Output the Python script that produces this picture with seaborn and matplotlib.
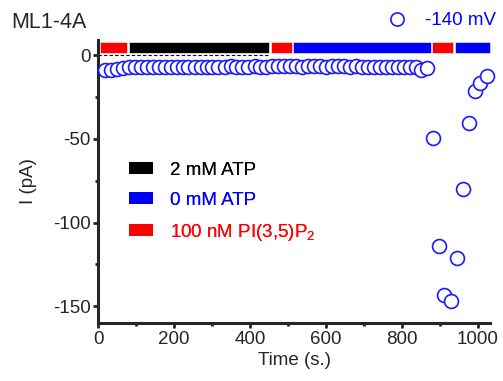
import matplotlib
matplotlib.use("Agg")
import matplotlib.pyplot as plt
import seaborn as sns
import pandas as pd
from matplotlib.patches import Patch
from matplotlib.lines import Line2D
from matplotlib.ticker import MultipleLocator

# ---- data ----
time_s = [18, 34, 50, 65, 81, 97, 112, 128, 144, 160, 175, 191, 207, 223, 238,
          254, 270, 286, 301, 317, 333, 349, 364, 380, 396, 412, 427, 443, 459,
          475, 490, 506, 522, 538, 553, 569, 585, 601, 616, 632, 648, 664, 679,
          695, 711, 727, 742, 758, 774, 790, 805, 821, 837, 850, 866,
          881, 897, 911, 929, 945, 961, 977, 992, 1007, 1023]
current_pA = [-9.2, -9.0, -8.4, -7.6, -7.2, -7.0, -7.0, -6.9, -7.0, -7.1, -7.0, -6.9,
              -7.0, -7.1, -7.2, -7.0, -6.9, -7.0, -7.1, -7.0, -6.9, -6.8, -6.9, -7.0,
              -6.9, -6.8, -6.9, -7.0, -6.8, -6.7, -6.8, -6.7, -6.8, -6.9, -6.8, -6.7,
              -6.8, -6.9, -6.8, -6.7, -6.8, -6.9, -6.8, -6.9, -7.0, -6.9, -7.0, -6.9,
              -7.0, -7.1, -7.0, -7.1, -7.3, -8.8, -7.6,
              -49.8, -113.7, -143.5, -147.0, -121.0, -80.0, -40.3, -21.3, -16.5, -12.5]

seg_start = [5, 82, 455, 514, 879, 939]
seg_end = [76, 450, 510, 876, 935, 1032]
seg_cond = ["pi", "atp2", "pi", "atp0", "pi", "atp0"]

cond_colors = {"atp2": "#000000", "atp0": "#0000ff", "pi": "#ff0000"}
legend_labels = ["2 mM ATP", "0 mM ATP", "100 nM PI(3,5)P$_2$"]
legend_keys = ["atp2", "atp0", "pi"]

x_ticks = [0, 200, 400, 600, 800, 1000]
y_ticks = [0, -50, -100, -150]

df = pd.DataFrame({"t": time_s, "I": current_pA})

# ---- style ----
sns.set_style("ticks")
plt.rcParams['font.family'] = ['Liberation Sans', 'DejaVu Sans']
plt.rcParams['mathtext.fontset'] = 'custom'
plt.rcParams['mathtext.rm'] = 'Liberation Sans'
plt.rcParams['mathtext.it'] = 'Liberation Sans:italic'
plt.rcParams['axes.unicode_minus'] = False

fig = plt.figure(figsize=(5.03, 3.81), dpi=100)
ax = fig.add_axes([0.195, 0.152, 0.974 - 0.195, 0.895 - 0.152])

# condition bars
widths = [e - s for s, e in zip(seg_start, seg_end)]
ax.barh(y=[4.5] * len(seg_start), width=widths, left=seg_start, height=7,
        color=[cond_colors[c] for c in seg_cond], edgecolor="#dddddd",
        linewidth=0.6, clip_on=False, zorder=3)

# baseline
ax.plot([0, 450], [0, 0], color="black", linestyle=(0, (3, 2)), linewidth=0.8, zorder=2)

# data points
sns.scatterplot(data=df, x="t", y="I", ax=ax, marker="o", s=100,
                facecolor="white", edgecolor="#1a1aff", linewidth=1.2,
                zorder=4, clip_on=False, legend=False)

ax.set_xlim(0, 1032)
ax.set_ylim(-160, 9)
ax.set_xticks(x_ticks)
ax.set_yticks(y_ticks)
ax.xaxis.set_minor_locator(MultipleLocator(100))
ax.yaxis.set_minor_locator(MultipleLocator(25))

for s in ["top", "right"]:
    ax.spines[s].set_visible(False)
for s in ["left", "bottom"]:
    ax.spines[s].set_linewidth(2.2)

ax.tick_params(axis="both", which="major", length=3.5, width=2, labelsize=13.5, pad=2)
ax.tick_params(axis="both", which="minor", length=2.5, width=2)

ax.set_xlabel("Time (s.)", fontsize=13.5, labelpad=3)
ax.set_ylabel("I (pA)", fontsize=13.5, labelpad=11)

# condition legend
handles = [Patch(facecolor=cond_colors[k], edgecolor="none") for k in legend_keys]
leg = ax.legend(handles, legend_labels, loc="upper left",
                bbox_to_anchor=(0.035, 0.63), frameon=False, fontsize=13.5,
                handlelength=1.3, handleheight=0.6, handletextpad=0.9,
                labelspacing=0.7, labelcolor=[cond_colors[k] for k in legend_keys])
ax.add_artist(leg)

# voltage legend
vh = [Line2D([], [], linestyle="none", marker="o", markersize=9.5,
             markerfacecolor="white", markeredgecolor="#1a1aff", markeredgewidth=1.2)]
fig.legend(vh, ["-140 mV"], loc="center right", bbox_to_anchor=(1.019, 0.946),
           frameon=False, fontsize=13.5, labelcolor="#0000ff",
           handlelength=1.0, handletextpad=1.0)

fig.text(0.022, 0.942, "ML1-4A", fontsize=15.5, va="center", ha="left")

fig.savefig("out.png", dpi=100)
